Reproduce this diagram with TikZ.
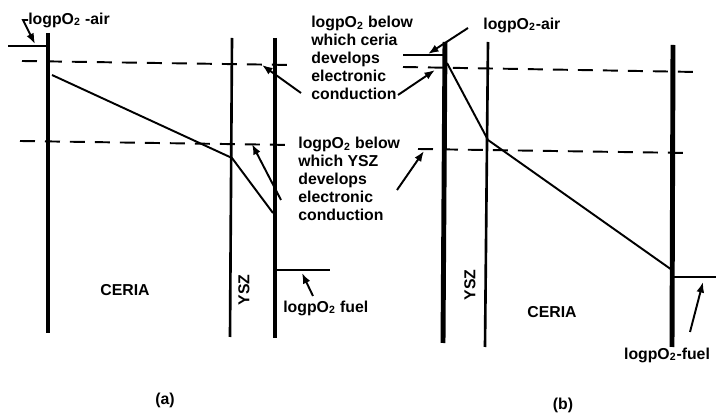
\documentclass[tikz,border=0pt]{standalone}
\usepackage{fontspec}
\setmainfont{Liberation Sans}
\usetikzlibrary{arrows.meta}
\tikzset{
  electrode/.style={line width=2.8pt},
  membrane/.style={line width=1.5pt},
  level/.style={line width=1.1pt, dash pattern=on 0.3cm off 0.2cm},
  profile/.style={line width=1.1pt},
  pointer/.style={line width=1.1pt, -{Latex[length=6pt,width=4.5pt]}},
  lbl/.style={font=\bfseries\fontsize{9}{10.2}\selectfont, inner sep=0pt},
}
\newcommand{\pox}{logpO\textsubscript{2}}
\begin{document}
\begin{tikzpicture}[x=0.02cm,y=-0.02cm]
\useasboundingbox (0,0) rectangle (717,418);
\draw [electrode] (48,33) -- (48,333);
\draw [membrane] (232,38) -- (230,337);
\draw [electrode] (275,38) -- (275,338);
\draw [profile] (8,46) -- (48,46);
\draw [profile] (277,270) -- (330,270);
\draw [level] (22,61) -- (292,65);
\draw [level] (20,141) -- (292,145);
\draw [profile] (52,75) -- (232,158) -- (273,213);
\node [lbl, anchor=west] (airA) at (28,20) {\pox{} -air};
\node [lbl, anchor=west] (fuelA) at (283,308) {\pox{} fuel};
\node [lbl] (ceriaA) at (125,290) {CERIA};
\node [lbl, rotate=90] (yszA) at (244,290) {YSZ};
\node [lbl] (capA) at (165,400) {(a)};
\node [lbl, anchor=west, align=left] (ceriaNote) at (311,58)
  {\pox{} below\\which ceria\\develops\\electronic\\conduction};
\node [lbl, anchor=west, align=left] (yszNote) at (298,179)
  {\pox{} below\\which YSZ\\develops\\electronic\\conduction};
\coordinate (airAtip) at (35,44);
\coordinate (fuelAtail) at (313,296);
\coordinate (fuelAtip) at (302,273);
\coordinate (ceriaAtail) at (301,93);
\coordinate (ceriaAtip) at (262,65);
\coordinate (yszAtail) at (281,200);
\coordinate (yszAtip) at (252,144);
\draw [pointer] (airA.west) -- ++(-5,0) -- (airAtip);
\draw [pointer] (fuelAtail) -- (fuelAtip);
\draw [pointer] (ceriaAtail) -- (ceriaAtip);
\draw [pointer] (yszAtail) -- (yszAtip);
\draw [electrode] (445,42) -- (443,343);
\draw [membrane] (488,42) -- (485,347);
\draw [electrode] (673,45) -- (672,347);
\draw [profile] (403,55) -- (443,55);
\draw [profile] (673,277) -- (716,277);
\draw [level] (403,67) -- (697,72);
\draw [level] (418,149) -- (689,153);
\draw [profile] (447,63) -- (488,140) -- (672,270);
\node [lbl, anchor=west] (airB) at (483,25) {\pox{}-air};
\node [lbl] (fuelB) at (667,355) {\pox{}-fuel};
\node [lbl] (ceriaB) at (552,312) {CERIA};
\node [lbl, rotate=90] (yszB) at (470,285) {YSZ};
\node [lbl] (capB) at (563,405) {(b)};
\coordinate (airBtail) at (468,28);
\coordinate (airBtip) at (428,54);
\coordinate (ceriaBtail) at (398,95);
\coordinate (ceriaBtip) at (435,70);
\coordinate (yszBtail) at (397,190);
\coordinate (yszBtip) at (424,151);
\coordinate (fuelBtail) at (690,332);
\coordinate (fuelBtip) at (703,282);
\draw [pointer] (airBtail) -- (airBtip);
\draw [pointer] (ceriaBtail) -- (ceriaBtip);
\draw [pointer] (yszBtail) -- (yszBtip);
\draw [pointer] (fuelBtail) -- (fuelBtip);
\end{tikzpicture}
\end{document}
